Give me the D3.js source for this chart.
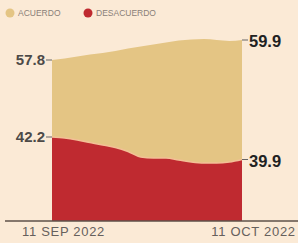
<!DOCTYPE html>
<html>
<head>
<meta charset="utf-8">
<script src="https://cdn.jsdelivr.net/npm/d3@7"></script>
<style>
  html, body { margin: 0; padding: 0; background: #fbead6; }
  svg { display: block; }
</style>
</head>
<body>
<svg id="chart" width="298" height="243"></svg>
<script>
// ---- data ----
const dates = ["2022-09-11","2022-09-13","2022-09-15","2022-09-17","2022-09-19","2022-09-21",
               "2022-09-23","2022-09-25","2022-09-27","2022-09-29","2022-10-01","2022-10-03",
               "2022-10-05","2022-10-07","2022-10-09","2022-10-11"];
const acuerdo    = [57.8, 57.96, 58.17, 58.38, 58.54, 58.75, 59.0, 59.22, 59.43, 59.64, 59.85, 59.95, 60.0, 59.9, 59.8, 59.9];
const desacuerdo = [42.2, 42.1, 41.9, 41.64, 41.38, 41.13, 40.72, 40.16, 40.05, 40.05, 39.85, 39.64, 39.54, 39.54, 39.64, 39.9];
const seriesNames = ["ACUERDO", "DESACUERDO"];
const xTickDates = ["2022-09-11", "2022-10-11"];
const xTickLabels = ["11 SEP 2022", "11 OCT 2022"];
const startLabels = ["57.8", "42.2"];
const endLabels = ["59.9", "39.9"];

// ---- drawing ----
const parse = d3.timeParse("%Y-%m-%d");
const svg = d3.select("#chart");
const colors = { tan: "#e4c584", red: "#bf2a30", bg: "#fbead6" };

const x = d3.scaleTime()
  .domain([parse(dates[0]), parse(dates[dates.length - 1])])
  .range([52, 242]);
// chart exaggerates the change near the line ends: polylinear scale
const y = d3.scaleLinear()
  .domain([33.6, 39.9, 42.2, 57.8, 59.9])
  .range([221, 159.5, 137, 60, 40]);

const rows = dates.map((d, i) => ({ date: parse(d), a: acuerdo[i], b: desacuerdo[i] }));

const areaA = d3.area().curve(d3.curveMonotoneX)
  .x(d => x(d.date)).y0(y(33.6)).y1(d => y(d.a));
const areaB = d3.area().curve(d3.curveMonotoneX)
  .x(d => x(d.date)).y0(y(33.6)).y1(d => y(d.b));
const lineB = d3.line().curve(d3.curveMonotoneX)
  .x(d => x(d.date)).y(d => y(d.b));

svg.append("path").datum(rows).attr("d", areaA).attr("fill", colors.tan);
svg.append("path").datum(rows).attr("d", areaB).attr("fill", colors.red);
svg.append("path").datum(rows).attr("d", lineB)
  .attr("fill", "none").attr("stroke", "#f3c096").attr("stroke-width", 1.6);

// x axis
const xAxis = d3.axisBottom(x)
  .tickValues(xTickDates.map(parse))
  .tickSize(0)
  .tickFormat((d, i) => xTickLabels[i]);
const gx = svg.append("g").attr("transform", "translate(0,221)").call(xAxis);
gx.select(".domain").remove();
gx.selectAll("text")
  .attr("dy", "0.72em").attr("y", 6).attr("dx", 11)
  .attr("fill", "#66605c")
  .style("font-family", "'Liberation Sans', Arial, sans-serif")
  .style("font-size", "13px")
  .style("letter-spacing", "0.7px");
svg.append("line")
  .attr("x1", 5).attr("x2", 298).attr("y1", 221).attr("y2", 221)
  .attr("stroke", "#5e5048").attr("stroke-width", 1.5);

// start labels
const startVals = [acuerdo[0], desacuerdo[0]];
startVals.forEach((v, i) => {
  svg.append("line").attr("x1", 46).attr("x2", 52)
    .attr("y1", y(v)).attr("y2", y(v))
    .attr("stroke", "#666").attr("stroke-width", 1);
  svg.append("text").attr("x", 45).attr("y", y(v)).attr("dy", "0.36em")
    .attr("text-anchor", "end")
    .attr("fill", "#4d4a48")
    .style("font-family", "'Liberation Sans', Arial, sans-serif")
    .style("font-weight", "bold").style("font-size", "15px")
    .text(startLabels[i]);
});

// end labels
const endVals = [acuerdo[acuerdo.length - 1], desacuerdo[desacuerdo.length - 1]];
endVals.forEach((v, i) => {
  svg.append("line").attr("x1", 242).attr("x2", 248)
    .attr("y1", y(v)).attr("y2", y(v))
    .attr("stroke", "#666").attr("stroke-width", 1);
  svg.append("text").attr("x", 249).attr("y", y(v) + (i === 1 ? 2 : 1)).attr("dy", "0.36em")
    .attr("text-anchor", "start")
    .attr("fill", "#222")
    .style("font-family", "'Liberation Sans', Arial, sans-serif")
    .style("font-weight", "bold").style("font-size", "16.5px")
    .text(endLabels[i]);
});

// legend
const legendX = [10, 88];
const legendColors = [colors.tan, colors.red];
seriesNames.forEach((name, i) => {
  svg.append("circle").attr("cx", legendX[i]).attr("cy", 13).attr("r", 4.5)
    .attr("fill", legendColors[i]);
  svg.append("text").attr("x", legendX[i] + 8).attr("y", 13).attr("dy", "0.36em")
    .attr("fill", "#8a8078")
    .style("font-family", "'Liberation Sans', Arial, sans-serif")
    .style("font-size", "8.5px")
    .text(name);
});
</script>
</body>
</html>
